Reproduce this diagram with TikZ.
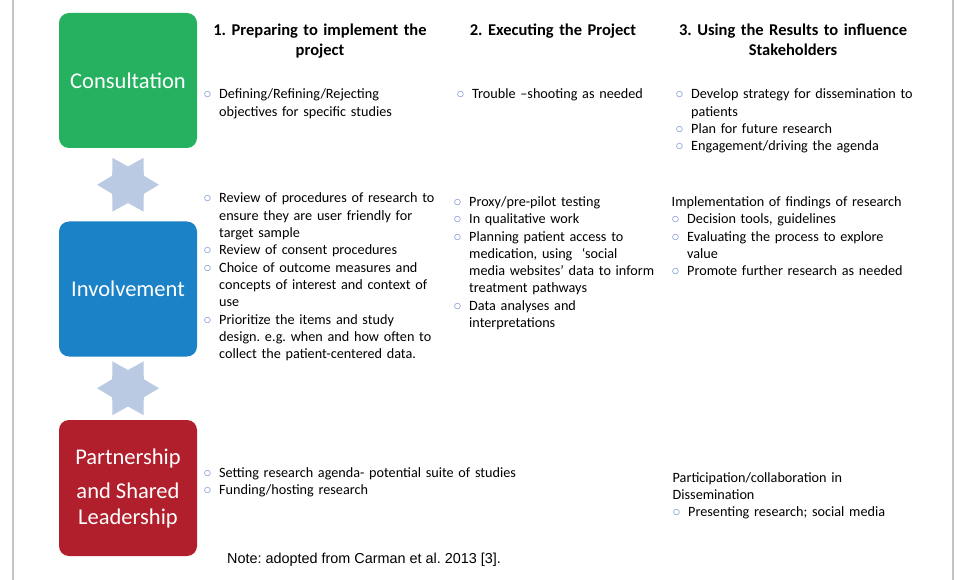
\documentclass[tikz,border=0pt]{standalone}
\usepackage{fontspec}
\setmainfont{Carlito}
\newfontfamily\notefont{Liberation Sans}
\usetikzlibrary{shapes.geometric,calc}
\frenchspacing
\definecolor{consgreen}{RGB}{38,177,97}
\definecolor{involblue}{RGB}{28,130,199}
\definecolor{partred}{RGB}{177,31,44}
\definecolor{starblue}{RGB}{186,202,226}
\definecolor{bulblue}{RGB}{112,140,208}
\definecolor{framegray}{RGB}{195,195,195}
\newcommand{\bl}{\makebox[15.5pt][l]{\textcolor{bulblue}{\scalebox{1.1}{$\circ$}}}}
\newcommand{\ind}{\hspace*{15.5pt}}
\tikzset{
  levelbox/.style={rounded corners=10pt,minimum width=138pt,minimum height=135pt,
    inner sep=0,text=white,align=center,font=\fontsize{22.5}{26}\selectfont},
  hexstar/.style={star,star points=6,star point ratio=1.7,shape border rotate=30,
    fill=starblue,inner sep=0,minimum size=62pt},
  head/.style={font=\bfseries\fontsize{16.5}{19.5}\selectfont,text width=250pt,
    align=center,inner sep=0,anchor=base},
  txt/.style={font=\fontsize{14.2}{17.3}\selectfont,text width=#1,
    align=left,inner sep=0,anchor=base west},
  txt/.default=245pt
}
\begin{document}
\begin{tikzpicture}[x=1pt,y=-1pt]
\useasboundingbox (0,0) rectangle (959,580);
\draw[framegray,line width=1.5pt] (13,0) -- (13,580) (953,0) -- (953,580);
% the three levels
\node[levelbox,fill=consgreen] (consult) at (128,80.5) {Consultation};
\node[levelbox,fill=involblue] (involve) at (128,289) {Involvement};
\node[levelbox,fill=partred,minimum height=136pt] (partner) at (128,488)
  {Partnership\\[8pt]and Shared\\Leadership};
\node[hexstar] (star1) at ($(consult.south)!0.5!(involve.north)$) {};
\node[hexstar] (star2) at ($(involve.south)!0.5!(partner.north)$) {};
% column heads
\node[head] (prep) at (320,36) {1. Preparing to implement the\\project};
\node[head] (exec) at (553,36) {2. Executing the Project};
\node[head] (using) at (793,36) {3. Using the Results to influence\\Stakeholders};
% consultation row
\node[txt] (consprep) at (203.5,99) {\bl Defining/Refining/Rejecting\\\ind objectives for specific studies};
\node[txt=205pt] (consexec) at (456.5,99) {\bl Trouble –shooting as needed};
\node[txt=260pt] (consusing) at (675.5,99) {\bl Develop strategy for dissemination to\\\ind patients\\
  \bl Plan for future research\\\bl Engagement/driving the agenda};
% involvement row
\node[txt] (involprep) at (203.5,203) {\bl Review of procedures of research to\\
  \ind ensure they are user friendly for\\\ind target sample\\
  \bl Review of consent procedures\\
  \bl Choice of outcome measures and\\\ind concepts of interest and context of\\\ind use\\
  \bl Prioritize the items and study\\\ind design. e.g. when and how often to\\
  \ind collect the patient-centered data.};
\node[txt=210pt] (involexec) at (453.5,206.5) {\bl Proxy/pre-pilot testing\\\bl In qualitative work\\
  \bl Planning patient access to\\\ind medication, using\ \ ‘social\\
  \ind media websites’ data to inform\\\ind treatment pathways\\
  \bl Data analyses and\\\ind interpretations};
\node[txt=260pt] (involusing) at (671.5,206.5) {Implementation of findings of research\\
  \bl Decision tools, guidelines\\\bl Evaluating the process to explore\\\ind value\\
  \bl Promote further research as needed};
% partnership row
\node[txt=330pt] (partprep) at (203.5,477.5) {\bl Setting research agenda- potential suite of studies\\
  \bl Funding/hosting research};
\node[txt=260pt] (partusing) at (672.5,482) {Participation/collaboration in\\Dissemination\\
  \bl Presenting research; social media};
\node[anchor=base west,inner sep=0,font=\notefont\fontsize{14.4}{17}\selectfont] (note)
  at (227,563) {Note: adopted from Carman et al. 2013 [3].};
\end{tikzpicture}
\end{document}
